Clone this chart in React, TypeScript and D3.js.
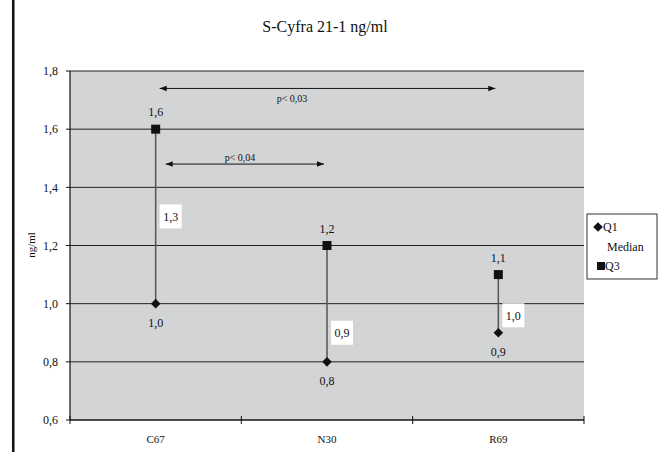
import React from "react";
import * as d3 from "d3";

const categories = ["C67", "N30", "R69"];
const q1Values = [1.0, 0.8, 0.9];
const medianValues = [1.3, 0.9, 0.96];
const q3Values = [1.6, 1.2, 1.1];
const yTicks = [0.6, 0.8, 1.0, 1.2, 1.4, 1.6, 1.8];
const title = "S-Cyfra 21-1 ng/ml";
const yLabel = "ng/ml";
const legendItems = ["Q1", "Median", "Q3"];
const comparisons = [
  { from: 0, to: 2, y: 1.74, label: "p< 0,03" },
  { from: 0, to: 1, y: 1.48, label: "p< 0,04" },
];

const W = 659, H = 452;
const M = { left: 70, right: 584, top: 71, bottom: 420 };
const FONT = "Liberation Serif, Tinos, Times New Roman, DejaVu Serif, serif";

const fmt = (v: number) => d3.format(".1f")(v).replace(".", ",");

export default function App() {
  const x = d3.scaleBand<string>().domain(categories).range([M.left, M.right]);
  const y = d3.scaleLinear().domain([0.6, 1.8]).range([M.bottom, M.top]);
  const cx = (i: number) => (x(categories[i]) as number) + x.bandwidth() / 2;
  const bandEdges = [...categories.map((c) => x(c) as number), M.right];
  const diamond = "M0,-4.8 L4.8,0 L0,4.8 L-4.8,0 Z";
  const T = (props: any) => <text fontFamily={FONT} fill="#111" {...props} />;

  return (
    <svg width={W} height={H} style={{ position: "absolute", left: 0, top: 0 }} fontFamily={FONT}>
      <defs>
        <marker id="ah" viewBox="0 0 10 10" refX="10" refY="5" markerWidth="7" markerHeight="7" orient="auto-start-reverse" markerUnits="userSpaceOnUse">
          <path d="M0,1 L10,5 L0,9 Z" fill="#111" />
        </marker>
      </defs>
      <rect width={W} height={H} fill="#fff" />
      <rect x={12} y={0} width={2.5} height={H} fill="#111" />
      <T x={325} y={32} textAnchor="middle" fontSize={16}>{title}</T>

      <rect x={M.left} y={M.top} width={M.right - M.left} height={M.bottom - M.top} fill="#d3d4d6" />
      {yTicks.map((t) => (
        <g key={t}>
          <line x1={M.left} x2={M.right} y1={y(t)} y2={y(t)} stroke="#222" strokeWidth={1} />
          <line x1={M.left - 4} x2={M.left} y1={y(t)} y2={y(t)} stroke="#111" strokeWidth={1} />
          <T x={58} y={y(t)} dy="0.35em" textAnchor="end" fontSize={12}>{fmt(t)}</T>
        </g>
      ))}
      <line x1={M.left} x2={M.left} y1={M.top} y2={M.bottom} stroke="#111" strokeWidth={1.2} />
      <line x1={M.left} x2={M.right} y1={M.bottom} y2={M.bottom} stroke="#111" strokeWidth={1.2} />
      {bandEdges.map((bx, i) => (
        <line key={i} x1={bx} x2={bx} y1={M.bottom - 4} y2={M.bottom + 4} stroke="#111" strokeWidth={1} />
      ))}
      {categories.map((c, i) => (
        <T key={c} x={cx(i)} y={439} dy="0.35em" textAnchor="middle" fontSize={11}>{c}</T>
      ))}
      <T transform={`translate(31,${245}) rotate(-90)`} textAnchor="middle" dy="0.35em" fontSize={11}>{yLabel}</T>

      {comparisons.map((cmp, k) => {
        const x1 = cx(cmp.from) + 4 + k * 6;
        const x2 = cx(cmp.to) - 3;
        return (
          <g key={k}>
            <line x1={x1} x2={x2} y1={y(cmp.y)} y2={y(cmp.y)} stroke="#111" strokeWidth={1} markerStart="url(#ah)" markerEnd="url(#ah)" />
            <T x={k === 0 ? 292 : 240} y={k === 0 ? y(cmp.y) + 10 : y(cmp.y) - 7} dy="0.35em" textAnchor="middle" fontSize={10}>{cmp.label}</T>
          </g>
        );
      })}

      {categories.map((c, i) => (
        <g key={c}>
          <line x1={cx(i)} x2={cx(i)} y1={y(q3Values[i])} y2={y(q1Values[i])} stroke="#555" strokeWidth={1.5} />
          <rect x={cx(i) - 4.5} y={y(q3Values[i]) - 4.5} width={9} height={9} fill="#111" />
          <path d={diamond} transform={`translate(${cx(i)},${y(q1Values[i])})`} fill="#111" />
          <T x={cx(i)} y={y(q3Values[i]) - 17} dy="0.35em" textAnchor="middle" fontSize={12}>{fmt(q3Values[i])}</T>
          <T x={cx(i)} y={y(q1Values[i]) + 19} dy="0.35em" textAnchor="middle" fontSize={12}>{fmt(q1Values[i])}</T>
          <rect x={cx(i) + 4} y={y(medianValues[i]) - 12} width={22} height={24} fill="#fff" />
          <T x={cx(i) + 15} y={y(medianValues[i])} dy="0.35em" textAnchor="middle" fontSize={12}>{fmt(medianValues[i])}</T>
        </g>
      ))}

      <rect x={587} y={214} width={70} height={65} fill="#fff" stroke="#333" strokeWidth={1} />
      <path d={diamond} transform="translate(598,227)" fill="#111" />
      <T x={603} y={227} dy="0.35em" fontSize={12}>{legendItems[0]}</T>
      <T x={607} y={247} dy="0.35em" fontSize={12}>{legendItems[1]}</T>
      <rect x={597} y={262} width={8} height={8} fill="#111" />
      <T x={605} y={266} dy="0.35em" fontSize={12}>{legendItems[2]}</T>
    </svg>
  );
}
